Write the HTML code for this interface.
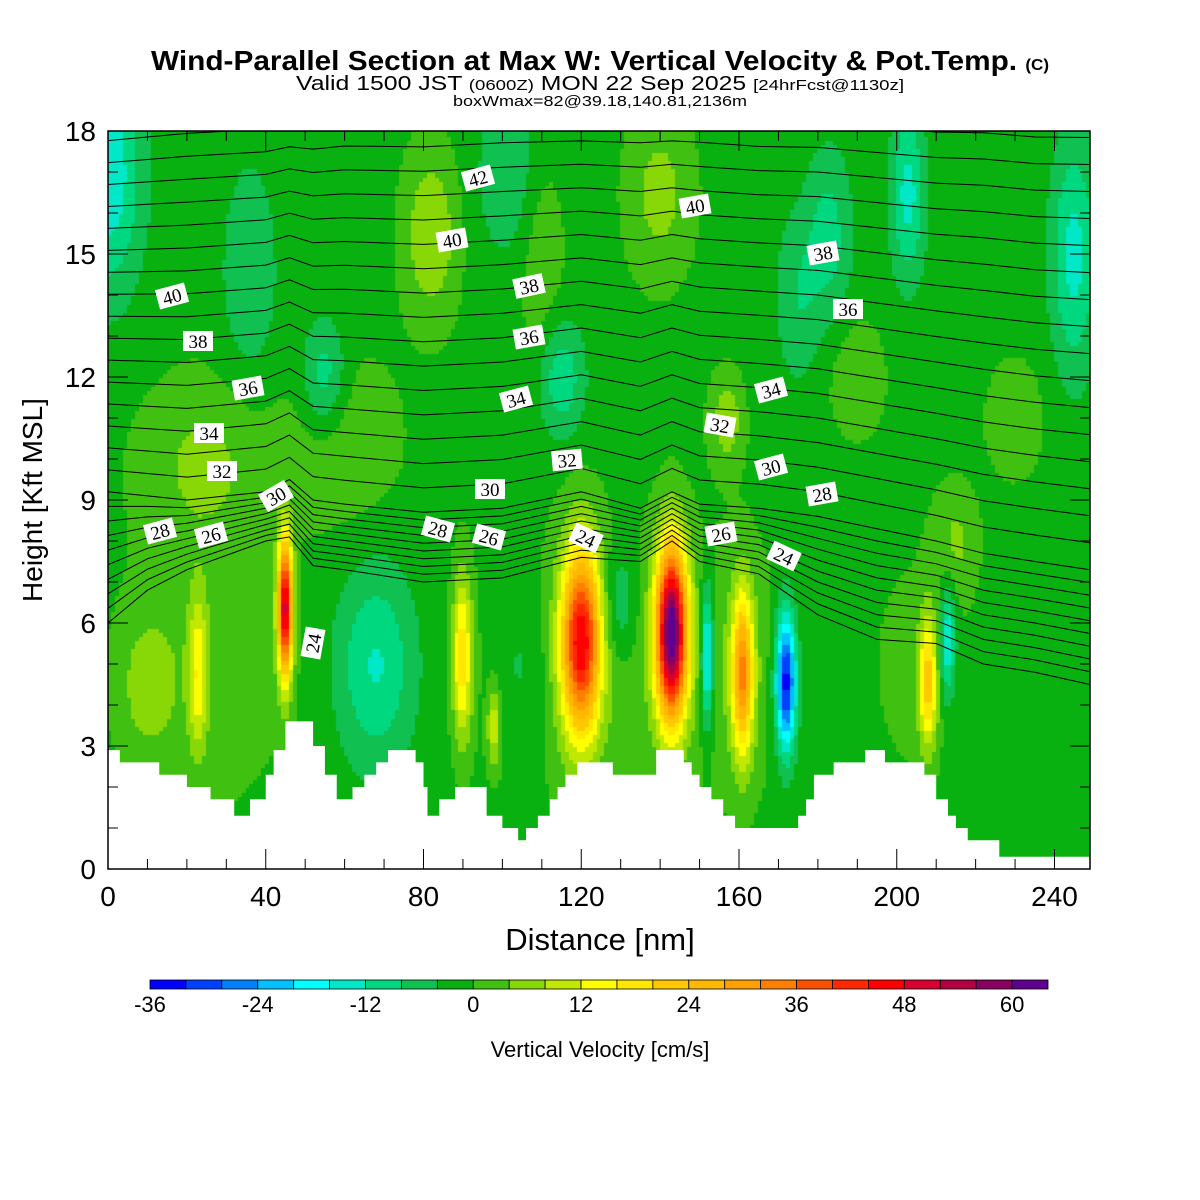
<!DOCTYPE html>
<html><head><meta charset="utf-8">
<style>
html,body{margin:0;padding:0;background:#fff;}
#wrap{position:relative;width:1200px;height:1200px;overflow:hidden;font-family:"Liberation Sans",sans-serif;}
#field{position:absolute;left:108px;top:131px;}
#ov{position:absolute;left:0;top:0;}
</style></head>
<body>
<div id="wrap">
<canvas id="field" width="982" height="738"></canvas>
<svg id="ov" width="1200" height="1200">
<g id="terrainG"></g>
<g id="contours"></g>
<g id="labels"></g>
<g id="axes"></g>
<text x="600" y="70" text-anchor="middle" font-size="28" font-weight="bold" textLength="898" lengthAdjust="spacingAndGlyphs">Wind-Parallel Section at Max W: Vertical Velocity &amp; Pot.Temp. <tspan font-size="16">(C)</tspan></text>
<text x="600" y="90" text-anchor="middle" font-size="20" textLength="608" lengthAdjust="spacingAndGlyphs">Valid 1500 JST <tspan font-size="15">(0600Z)</tspan> MON 22 Sep 2025 <tspan font-size="15">[24hrFcst@1130z]</tspan></text>
<text x="600" y="106" text-anchor="middle" font-size="15" textLength="294" lengthAdjust="spacingAndGlyphs">boxWmax=82@39.18,140.81,2136m</text>
<text x="600" y="950" text-anchor="middle" font-size="31">Distance [nm]</text>
<text x="0" y="0" transform="translate(42,500) rotate(-90)" text-anchor="middle" font-size="28">Height [Kft MSL]</text>
<g id="cbar"></g>
<text x="600" y="1057" text-anchor="middle" font-size="22">Vertical Velocity [cm/s]</text>
</svg>
</div>
<script>
// ---- data ----
const colors=["#0000FF","#0040FF","#0080FF","#00C0FF","#00FFFF","#00E8C8","#00D880","#10C050","#08B010","#40C010","#88D808","#C0E800","#FFFF00","#FFE800","#FFC800","#FFB800","#FFA000","#FF8000","#FF5000","#FF2800","#FF0000","#D80030","#B00040","#880060","#600090"];
const levelMin=-36, levelStep=4;
const cbarTicks=[-36,-24,-12,0,12,24,36,48,60];
const xTicks=[0,40,80,120,160,200,240];
const yTicks=[0,3,6,9,12,15,18];
// cores: x(nm), z(kft), amplitude(cm/s), sigmaX, sigmaZ
const coreX=[45,143,120,161,172,152,90,208,23,98,0,25,55,82,102,115,60,140,157,183,203,245,230,190,215,68,105,130,213,235,10,36,110,175,25,125,160,205];
const coreZ=[6.4,5.8,5.6,4.8,4.6,5.2,5.2,4.6,4.8,3.5,17,10,12,15.5,17,12,10.5,16.5,11,15.5,16.5,15,11,12,8,5,5,6.5,5.6,2.5,4.5,14.5,15,14,5,5,5,5];
const coreA=[52,64,46,32,-34,-20,20,22,14,12,-14,6,-10,9,-6,-10,5,7,8,-8,-12,-12,5,5,6,-11,-5,-8,-16,-1,6,-6,5,-6,4,4,3,3];
const coreSX=[1.3,2.8,3.5,2.0,1.8,1.1,1.8,1.6,1.6,1.2,6,12,4,5,6,4,10,6,3,4,3,4,5,5,4,7,5,3,1.5,12,5,5,4,4,15,20,10,8];
const coreSZ=[1.2,1.5,1.6,1.4,1.2,1.2,1.4,1.1,1.3,0.7,2,1.5,1,1.5,1.5,1,1.5,1.5,0.8,1.5,1.5,2,1,1,1,1.7,1.5,1,1,1.5,1.2,2,2,1.5,2.5,2.5,2.5,2];
const baseW=-1.5;
// terrain steps: x start (nm), height (kft)
const terrX=[0,3,13,20,26,32,36,40,42,45,52,55,58,62,65,68,71,78,80,81,84,88,96,100,104,106,109,112,114,116,119,128,139,146,148,150,153,156,159,175,177,179,184,192,197,207,210,213,215,218,226,249];
const terrH=[2.9,2.6,2.3,2.0,1.7,1.3,1.7,2.3,2.9,3.6,3.0,2.3,1.7,2.0,2.3,2.6,2.9,2.6,2.0,1.3,1.7,2.0,1.3,1.0,0.7,1.0,1.3,1.7,2.0,2.3,2.6,2.3,2.9,2.6,2.3,2.0,1.7,1.3,1.0,1.3,1.7,2.3,2.6,2.9,2.6,2.3,1.7,1.3,1.0,0.7,0.3,0.3];
// theta contour profiles
const profX=[0,10,20,40,46,52,60,80,100,120,135,143,150,165,180,195,210,222,235,249];
const profBottom=[6.0,6.8,7.3,8.0,8.1,7.4,7.3,7.0,7.1,7.6,7.5,8.0,7.5,7.2,6.2,5.6,5.5,5.0,4.8,4.5];
const profMid=[9.2,9.1,9.0,9.2,9.5,9.0,8.9,8.7,8.8,9.2,8.8,9.2,8.9,8.8,8.6,8.3,8.0,7.7,7.5,7.3];
const profTop=[18.3,18.4,18.5,18.6,18.7,18.7,18.8,18.8,18.9,18.9,18.9,18.9,18.9,18.8,18.8,18.7,18.6,18.6,18.5,18.5];
const nLow=9, nHigh=17;
const labelText=["42","40","40","38","40","38","36","38","36","36","34","34","32","34","32","32","30","30","30","28","28","28","26","26","24","26","24","24"];
const labelPx=[[478,178,-15],[695,206,-10],[452,240,-10],[823,253,-10],[172,296,-15],[529,286,-12],[848,309,0],[198,341,0],[529,337,-10],[248,388,-10],[771,390,-15],[516,399,-15],[720,425,10],[209,433,0],[567,460,-5],[222,471,0],[771,467,-15],[490,489,0],[276,496,-30],[822,494,-10],[160,531,-15],[438,529,15],[211,535,-15],[489,537,15],[586,538,25],[721,534,-10],[784,556,25],[313,643,-80]];

// ---- scales ----
const X0=108,X1=1090,Y0=869,Y1=131,XMAX=249,ZMAX=18;
const sx=x=>X0+x*(X1-X0)/XMAX;
const sz=z=>Y0-z*(Y0-Y1)/ZMAX;
const NS="http://www.w3.org/2000/svg";
function mk(tag,attrs,parent){const e=document.createElementNS(NS,tag);for(const k in attrs)e.setAttribute(k,attrs[k]);parent.appendChild(e);return e;}
function terrainAt(x){let h=terrH[0];for(let i=0;i<terrX.length;i++){if(x>=terrX[i])h=terrH[i];}return h;}
function wAt(x,z){let w=baseW;for(let i=0;i<coreX.length;i++){const dx=(x-coreX[i])/coreSX[i],dz=(z-coreZ[i])/coreSZ[i];w+=coreA[i]*Math.exp(-0.5*(dx*dx+dz*dz));}return w;}
function colorFor(w){let k=Math.floor((w-levelMin)/levelStep);k=Math.max(0,Math.min(colors.length-1,k));return colors[k];}

// ---- field ----
const cv=document.getElementById('field'),ctx=cv.getContext('2d');
const dx=1,dz=0.1;
for(let x=0;x<XMAX;x+=dx){for(let z=0;z<ZMAX;z+=dz){
  const xc=x+dx/2,zc=z+dz/2;
  ctx.fillStyle=colorFor(wAt(xc,zc));
  const px=sx(x)-X0,py=sz(z+dz)-Y1;
  ctx.fillRect(Math.floor(px),Math.floor(py),Math.ceil(sx(x+dx)-sx(x))+1,Math.ceil(sz(z)-sz(z+dz))+1);
}}
// ---- terrain ----
const tg=document.getElementById('terrainG');
let d="M"+sx(0)+","+sz(0);
for(let i=0;i<terrX.length;i++){const xe=(i+1<terrX.length)?terrX[i+1]:XMAX;d+=" L"+sx(terrX[i])+","+sz(terrH[i])+" L"+sx(xe)+","+sz(terrH[i]);}
d+=" L"+sx(XMAX)+","+sz(0)+" Z";
const tp=mk('path',{d:d,fill:"#fff",stroke:"none"},tg);


// ---- contours ----
const cg=document.getElementById('contours');
function drawLine(arr){let pts=[];for(let j=0;j<profX.length;j++){const z=arr[j];const zz=Math.max(z,terrainAt(profX[j]));pts.push(sx(profX[j]).toFixed(1)+","+sz(Math.min(zz,ZMAX+2)).toFixed(1));}
  const p=mk('polyline',{points:pts.join(" "),fill:"none",stroke:"#000","stroke-width":1},cg);
  
  }
for(let i=0;i<nLow;i++){const t=i/nLow;drawLine(profX.map((_,j)=>profBottom[j]+(profMid[j]-profBottom[j])*t));}
for(let i=0;i<nHigh;i++){const t=i/nHigh;drawLine(profX.map((_,j)=>profMid[j]+(profTop[j]-profMid[j])*t));}
const clip=mk('clipPath',{id:"pc"},document.getElementById('ov'));mk('rect',{x:X0,y:Y1,width:X1-X0,height:Y0-Y1},clip);
cg.setAttribute('clip-path','url(#pc)');
// ---- labels ----
const lg=document.getElementById('labels');
for(let i=0;i<labelText.length;i++){const [x,y,r]=labelPx[i];
  const g=mk('g',{transform:`translate(${x},${y}) rotate(${r})`},lg);
  
  
  mk('rect',{x:-15,y:-10,width:30,height:20,fill:"#fff"},g);
  const t=mk('text',{x:0,y:7,"text-anchor":"middle","font-size":19,"font-family":"Liberation Serif, serif"},g);t.textContent=labelText[i];}
// ---- axes ----
const ag=document.getElementById('axes');
const fr=mk('rect',{x:X0,y:Y1,width:X1-X0,height:Y0-Y1,fill:"none",stroke:"#000","stroke-width":1.5},ag);


for(let x=0;x<=XMAX;x+=10){const big=x%40===0,L=big?20:10;
  mk('line',{x1:sx(x),x2:sx(x),y1:Y0,y2:Y0-L,stroke:"#000"},ag);mk('line',{x1:sx(x),x2:sx(x),y1:Y1,y2:Y1+L,stroke:"#000"},ag);}
for(let z=0;z<=ZMAX;z+=1){const big=z%3===0,L=big?20:10;
  mk('line',{x1:X0,x2:X0+L,y1:sz(z),y2:sz(z),stroke:"#000"},ag);mk('line',{x1:X1,x2:X1-L,y1:sz(z),y2:sz(z),stroke:"#000"},ag);}
xTicks.forEach(v=>{const t=mk('text',{x:sx(v),y:906,"text-anchor":"middle","font-size":28},ag);t.textContent=v;
  
  });
yTicks.forEach(v=>{const t=mk('text',{x:96,y:sz(v)+10,"text-anchor":"end","font-size":28},ag);t.textContent=v;
  
  });
// ---- colorbar ----
const cb=document.getElementById('cbar');const CB0=150,CB1=1048,bw=(CB1-CB0)/colors.length;
colors.forEach((c,i)=>{const r=mk('rect',{x:CB0+i*bw,y:980,width:bw,height:9,fill:c,stroke:"#000","stroke-width":0.8},cb);
  
  });
cbarTicks.forEach(v=>{const t=mk('text',{x:CB0+(v-levelMin)/levelStep*bw,y:1012,"text-anchor":"middle","font-size":22},cb);t.textContent=v;
  
  });
</script>
</body></html>
